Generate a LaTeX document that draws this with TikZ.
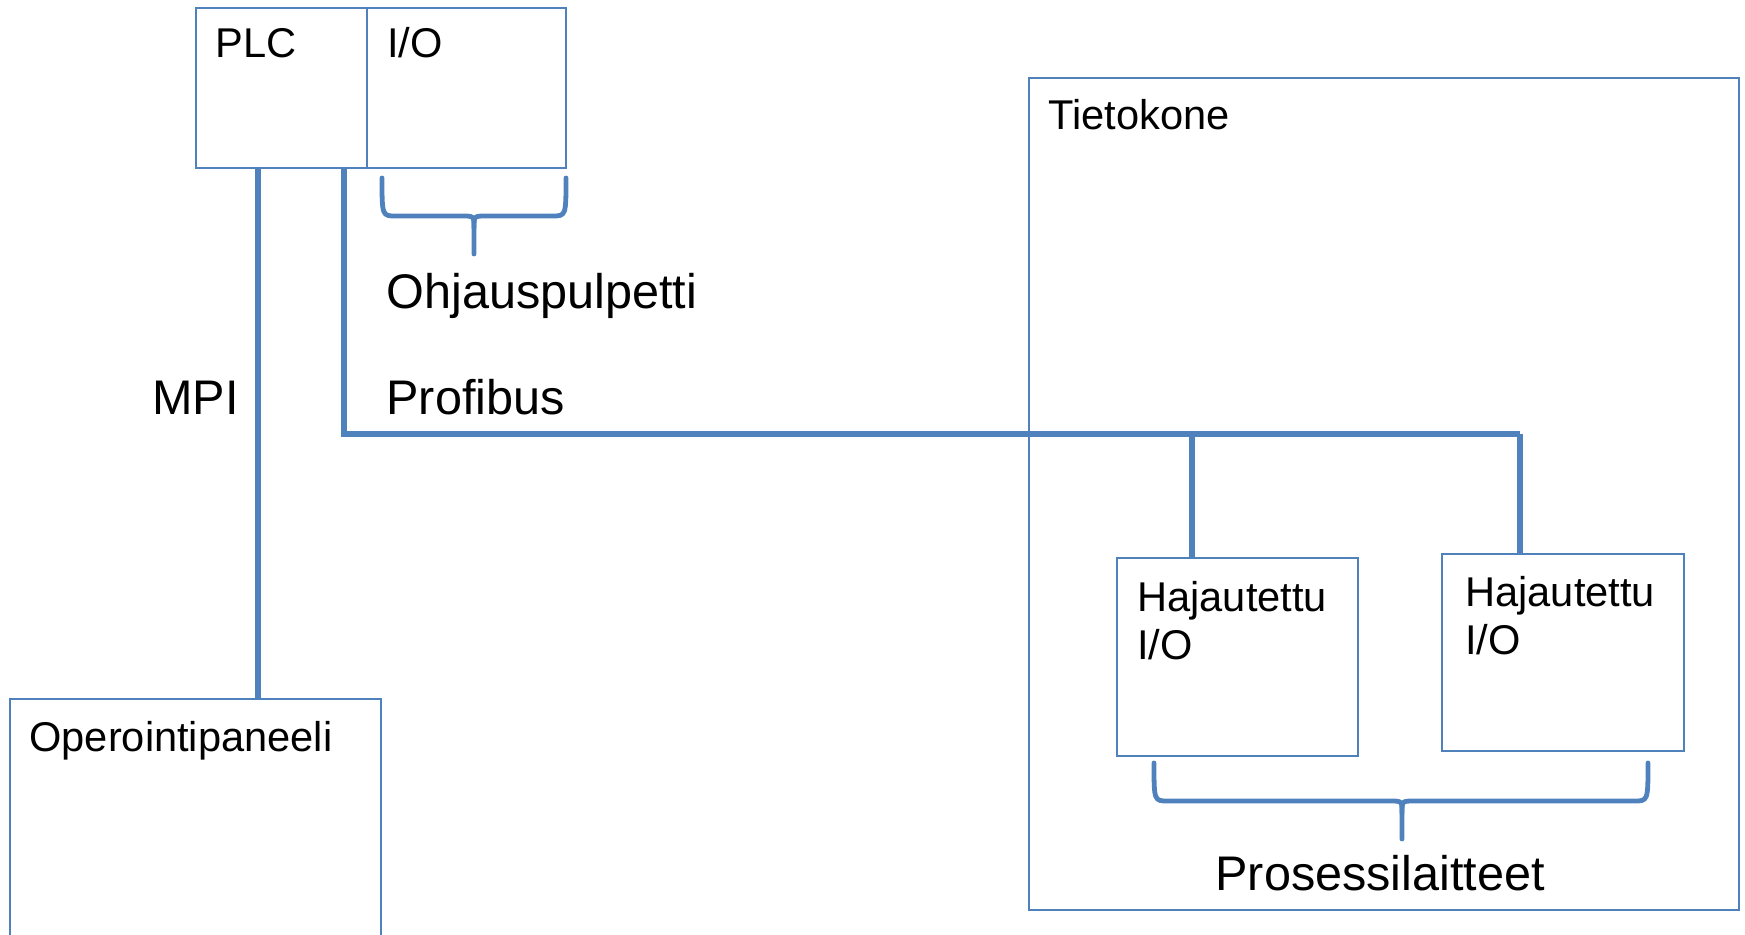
\documentclass[tikz,border=0pt]{standalone}
\usepackage{fontspec}
\setmainfont{Liberation Sans}
\definecolor{lineblue}{HTML}{4F81BD}
\begin{document}
\begin{tikzpicture}[x=0.5pt,y=-0.5pt,
  box/.style={draw=lineblue,line width=1pt,rectangle,inner sep=0pt,outer sep=0pt},
  wire/.style={draw=lineblue,line width=2.6pt},
  bracepath/.style={draw=lineblue,line width=2.4pt,line cap=round,line join=round},
  small/.style={font=\fontsize{20.8}{24}\selectfont,inner sep=0pt,anchor=base west},
  big/.style={font=\fontsize{24.3}{28}\selectfont,inner sep=0pt,anchor=base west}]
\useasboundingbox (0,0) rectangle (1745,935);
\clip (0,0) rectangle (1745,935);
% boxes
\node[box,minimum width=85.5pt,minimum height=80pt] (plc) at (281.5,88) {};
\node[box,minimum width=99.5pt,minimum height=80pt] (io) at (466.5,88) {};
\node[box,minimum width=185.5pt,minimum height=151pt] (op) at (195.5,850) {};
\node[box,minimum width=355pt,minimum height=416pt] (tk) at (1384,494) {};
\node[box,minimum width=120.5pt,minimum height=99pt] (h1) at (1237.5,657) {};
\node[box,minimum width=121pt,minimum height=98.5pt] (h2) at (1563,652.5) {};
% texts
\node[small] (tplc) at (215,58) {PLC};
\node[small] (tio) at (387,58) {I/O};
\node[small] (top) at (29,751) {Operointipaneeli};
\node[small] (ttk) at (1048,130) {Tietokone};
\node[small] (th1a) at (1137,611) {Hajautettu};
\node[small] (th1b) at (1137,659) {I/O};
\node[small] (th2a) at (1465,606) {Hajautettu};
\node[small] (th2b) at (1465,654) {I/O};
\node[big] (tmpi) at (152,415) {MPI};
\node[big] (tprof) at (386,415) {Profibus};
\node[big] (tohj) at (386,309) {Ohjauspulpetti};
\node[big] (tpros) at (1215,890) {Prosessilaitteet};
% wires
\coordinate (bus0) at (344,434);
\coordinate (bus1) at (1192,434);
\coordinate (bus2) at (1520,434);
\draw[wire] (plc.south -| 258,0) -- (op.north -| 258,0);
\draw[wire] (plc.south -| bus0) -- (bus0) -- (bus2);
\draw[wire] (bus1) -- (h1.north -| bus1);
\draw[wire] (bus2) -- (h2.north -| bus2);
% braces
\draw[bracepath] (382,178) .. controls (382,216) .. (396,216) -- (462,216)
  .. controls (474,216) .. (474,228) -- (474,254);
\draw[bracepath] (566,178) .. controls (566,216) .. (552,216) -- (486,216)
  .. controls (474,216) .. (474,228);
\draw[bracepath] (1154,763) .. controls (1154,801) .. (1168,801) -- (1390,801)
  .. controls (1402,801) .. (1402,813) -- (1402,839);
\draw[bracepath] (1648,763) .. controls (1648,801) .. (1634,801) -- (1414,801)
  .. controls (1402,801) .. (1402,813);
\end{tikzpicture}
\end{document}
